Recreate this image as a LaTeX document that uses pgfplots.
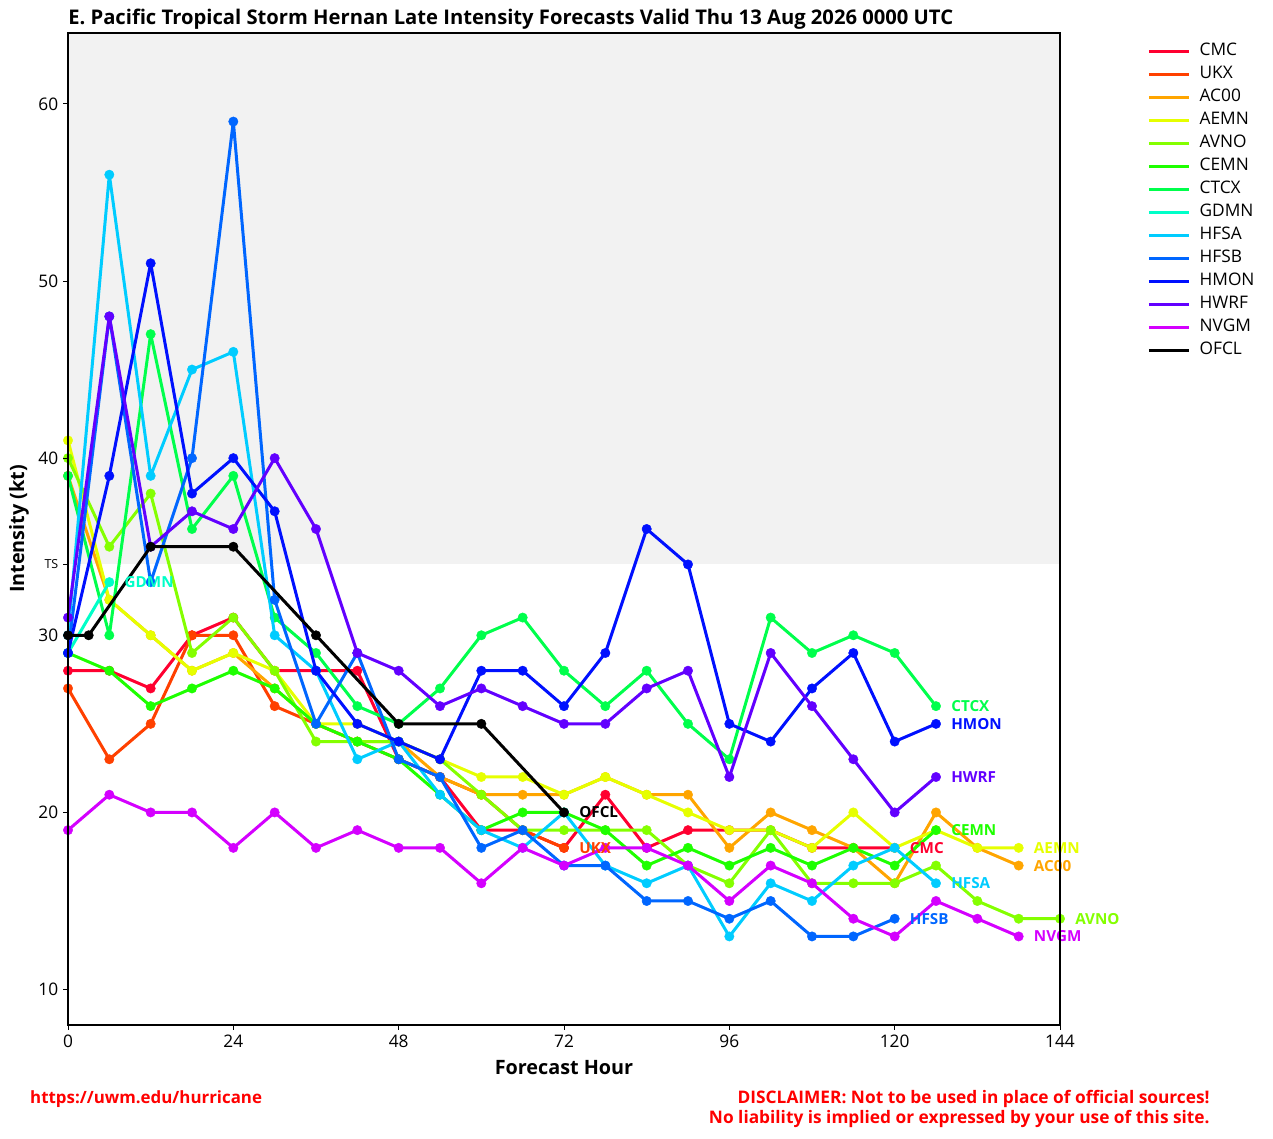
\documentclass[border=0pt]{standalone}
\usepackage{fontspec}
\setmainfont{Open Sans}
\usepackage{pgfplots}
\pgfplotsset{compat=1.18}
\definecolor{cCMC}{HTML}{FF0030}
\definecolor{cUKX}{HTML}{FF4000}
\definecolor{cAC00}{HTML}{FFA500}
\definecolor{cAEMN}{HTML}{E6FF00}
\definecolor{cAVNO}{HTML}{84FF00}
\definecolor{cCEMN}{HTML}{1EFF00}
\definecolor{cCTCX}{HTML}{00FF4C}
\definecolor{cGDMN}{HTML}{00FFC8}
\definecolor{cHFSA}{HTML}{00CCFF}
\definecolor{cHFSB}{HTML}{0066FF}
\definecolor{cHMON}{HTML}{0010FF}
\definecolor{cHWRF}{HTML}{6200FF}
\definecolor{cNVGM}{HTML}{D400FF}
\definecolor{tsgray}{HTML}{F2F2F2}
\definecolor{discred}{HTML}{FF0000}
\begin{document}
\begin{tikzpicture}
\useasboundingbox (-48.96bp,-82.08bp) rectangle (867.6bp,738bp);
\begin{axis}[
  at={(0,0)}, anchor=south west,
  width=714.24bp, height=714.24bp, scale only axis,
  xmin=0, xmax=144, ymin=8, ymax=64,
  xtick={0,24,48,72,96,120,144}, ytick={10,20,30,40,50,60},
  extra y ticks={34}, extra y tick labels={TS},
  extra y tick style={yticklabel style={font=\fontsize{9}{10}\selectfont}},
  xtick pos=left, ytick pos=left,
  tick align=outside, major tick length=3.5bp,
  tick style={black, line width=0.6bp},
  axis line style={line width=0.8bp},
  axis on top,
  clip mode=individual,
  /pgf/number format/assume math mode=true,
  ticklabel style={font=\fontsize{12.5}{14}\selectfont},
  xlabel={\bfseries Forecast Hour},
  ylabel={\bfseries Intensity (kt)},
  xlabel style={font=\fontsize{14.3}{16}\selectfont, at={(axis description cs:0.5,-0.0433)}, anchor=center},
  ylabel style={font=\fontsize{14.3}{16}\selectfont, at={(axis description cs:-0.0494,0.5)}, anchor=center},
  legend style={at={(1.0837,0.9965)}, anchor=north west, draw=none, fill=none,
    font=\fontsize{12.5}{14}\selectfont, row sep=0pt,
    nodes={text height=9bp, text depth=3bp, inner ysep=2.28bp, inner xsep=3bp},
    /tikz/every odd column/.style={column sep=3.6bp}},
  legend cell align=left,
  legend image code/.code={\draw[#1] (0bp,0bp) -- (28.8bp,0bp);},
  ser/.style={line width=2.16bp, line join=round, mark=*, mark size=3.4bp, mark options={line width=0.3bp}},
]
\fill[tsgray] (axis cs:0,34) rectangle (axis cs:144,64);
\addplot[ser, color=cCMC] coordinates {(0,28)(6,28)(12,27)(18,30)(24,31)(30,28)(36,28)(42,28)(48,23)(54,22)(60,19)(66,19)(72,18)(78,21)(84,18)(90,19)(96,19)(102,19)(108,18)(114,18)(120,18)};
\addlegendentry{CMC}
\addplot[ser, color=cUKX] coordinates {(0,27)(6,23)(12,25)(18,30)(24,30)(30,26)(36,25)(42,24)(48,23)(54,22)(60,21)(66,19)(72,18)};
\addlegendentry{UKX}
\addplot[ser, color=cAC00] coordinates {(0,39)(6,32)(12,30)(18,28)(24,29)(30,27)(36,25)(42,24)(48,24)(54,22)(60,21)(66,21)(72,21)(78,22)(84,21)(90,21)(96,18)(102,20)(108,19)(114,18)(120,16)(126,20)(132,18)(138,17)};
\addlegendentry{AC00}
\addplot[ser, color=cAEMN] coordinates {(0,41)(6,32)(12,30)(18,28)(24,29)(30,28)(36,25)(42,25)(48,24)(54,23)(60,22)(66,22)(72,21)(78,22)(84,21)(90,20)(96,19)(102,19)(108,18)(114,20)(120,18)(126,19)(132,18)(138,18)};
\addlegendentry{AEMN}
\addplot[ser, color=cAVNO] coordinates {(0,40)(6,35)(12,38)(18,29)(24,31)(30,28)(36,24)(42,24)(48,24)(54,23)(60,21)(66,19)(72,19)(78,19)(84,19)(90,17)(96,16)(102,19)(108,16)(114,16)(120,16)(126,17)(132,15)(138,14)(144,14)};
\addlegendentry{AVNO}
\addplot[ser, color=cCEMN] coordinates {(0,29)(6,28)(12,26)(18,27)(24,28)(30,27)(36,25)(42,24)(48,23)(54,21)(60,19)(66,20)(72,20)(78,19)(84,17)(90,18)(96,17)(102,18)(108,17)(114,18)(120,17)(126,19)};
\addlegendentry{CEMN}
\addplot[ser, color=cCTCX] coordinates {(0,39)(6,30)(12,47)(18,36)(24,39)(30,31)(36,29)(42,26)(48,25)(54,27)(60,30)(66,31)(72,28)(78,26)(84,28)(90,25)(96,23)(102,31)(108,29)(114,30)(120,29)(126,26)};
\addlegendentry{CTCX}
\addplot[ser, color=cGDMN] coordinates {(0,29)(6,33)};
\addlegendentry{GDMN}
\addplot[ser, color=cHFSA] coordinates {(0,30)(6,56)(12,39)(18,45)(24,46)(30,30)(36,28)(42,23)(48,24)(54,21)(60,19)(66,18)(72,20)(78,17)(84,16)(90,17)(96,13)(102,16)(108,15)(114,17)(120,18)(126,16)};
\addlegendentry{HFSA}
\addplot[ser, color=cHFSB] coordinates {(0,29)(6,48)(12,33)(18,40)(24,59)(30,32)(36,25)(42,29)(48,23)(54,22)(60,18)(66,19)(72,17)(78,17)(84,15)(90,15)(96,14)(102,15)(108,13)(114,13)(120,14)};
\addlegendentry{HFSB}
\addplot[ser, color=cHMON] coordinates {(0,29)(6,39)(12,51)(18,38)(24,40)(30,37)(36,28)(42,25)(48,24)(54,23)(60,28)(66,28)(72,26)(78,29)(84,36)(90,34)(96,25)(102,24)(108,27)(114,29)(120,24)(126,25)};
\addlegendentry{HMON}
\addplot[ser, color=cHWRF] coordinates {(0,31)(6,48)(12,35)(18,37)(24,36)(30,40)(36,36)(42,29)(48,28)(54,26)(60,27)(66,26)(72,25)(78,25)(84,27)(90,28)(96,22)(102,29)(108,26)(114,23)(120,20)(126,22)};
\addlegendentry{HWRF}
\addplot[ser, color=cNVGM] coordinates {(0,19)(6,21)(12,20)(18,20)(24,18)(30,20)(36,18)(42,19)(48,18)(54,18)(60,16)(66,18)(72,17)(78,18)(84,18)(90,17)(96,15)(102,17)(108,16)(114,14)(120,13)(126,15)(132,14)(138,13)};
\addlegendentry{NVGM}
\addplot[ser, color=black] coordinates {(0,30)(3,30)(12,35)(24,35)(36,30)(48,25)(60,25)(72,20)};
\addlegendentry{OFCL}
\begin{scope}[every node/.style={anchor=west, xshift=7.5bp, font=\fontsize{11}{13}\selectfont\bfseries}]
\node[text=cCMC] at (axis cs:120,18) {CMC};
\node[text=cUKX] at (axis cs:72,18) {UKX};
\node[text=cAC00] at (axis cs:138,17) {AC00};
\node[text=cAEMN] at (axis cs:138,18) {AEMN};
\node[text=cAVNO] at (axis cs:144,14) {AVNO};
\node[text=cCEMN] at (axis cs:126,19) {CEMN};
\node[text=cCTCX] at (axis cs:126,26) {CTCX};
\node[text=cGDMN] at (axis cs:6,33) {GDMN};
\node[text=cHFSA] at (axis cs:126,16) {HFSA};
\node[text=cHFSB] at (axis cs:120,14) {HFSB};
\node[text=cHMON] at (axis cs:126,25) {HMON};
\node[text=cHWRF] at (axis cs:126,22) {HWRF};
\node[text=cNVGM] at (axis cs:138,13) {NVGM};
\node[text=black] at (axis cs:72,20) {OFCL};
\end{scope}
\end{axis}
\node[anchor=west, inner sep=0pt, font=\fontsize{14.6}{17}\selectfont\bfseries] at (0bp,724.3bp) {E. Pacific Tropical Storm Hernan Late Intensity Forecasts Valid Thu 13 Aug 2026 0000 UTC};
\node[anchor=west, inner sep=0pt, text=discred, font=\fontsize{12.2}{14}\selectfont\bfseries] at (-27.4bp,-53.3bp) {https://uwm.edu/hurricane};
\node[anchor=east, inner sep=0pt, align=right, text=discred, font=\fontsize{12.5}{14.4}\selectfont\bfseries] at (822.2bp,-60.5bp) {DISCLAIMER: Not to be used in place of official sources!\\No liability is implied or expressed by your use of this site.};
\end{tikzpicture}
\end{document}
